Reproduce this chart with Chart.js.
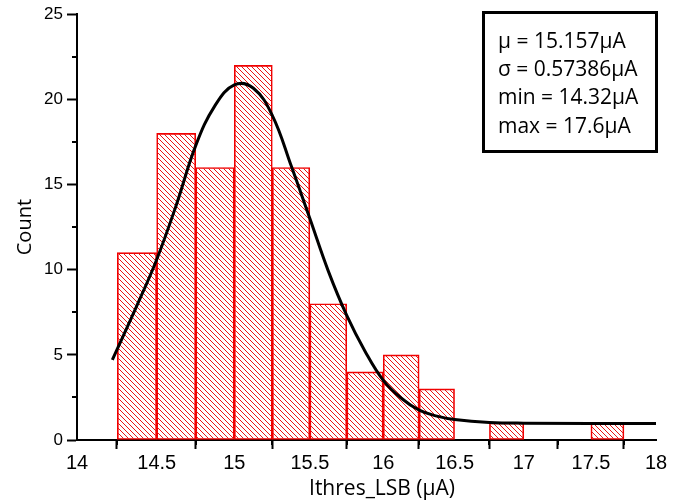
<!DOCTYPE html>
<html>
<head>
<meta charset="utf-8">
<script src="https://cdn.jsdelivr.net/npm/chart.js@4.4.1/dist/chart.umd.min.js"></script>
<style>
  html, body { margin: 0; padding: 0; background: #fff; }
  #wrap { width: 679px; height: 504px; }
</style>
</head>
<body>
<div id="wrap"><canvas id="mycanvas" width="679" height="504"></canvas></div>
<script>
// histogram bins (centre of each 0.25 uA bin) and counts
var binCenters = [14.375, 14.625, 14.875, 15.125, 15.375, 15.625, 15.875, 16.125, 16.375, 16.625, 16.875, 17.125, 17.375, 17.625];
var binCounts  = [11, 18, 16, 22, 16, 8, 4, 5, 3, 0, 1, 0, 0, 1];

// gauss fit curve
var fitX = [14.22, 14.375, 14.5, 14.625, 14.75, 14.875, 15.0, 15.125, 15.25, 15.375, 15.5, 15.625, 15.75, 15.875, 16.0, 16.125, 16.25, 16.375, 16.5, 16.75, 17.0, 18.0];
var fitY = [4.7, 7.9, 10.6, 13.8, 17.3, 19.65, 20.85, 20.65, 19.05, 16.1, 13.0, 9.9, 7.3, 5.2, 3.5, 2.45, 1.75, 1.4, 1.2, 1.03, 0.99, 0.97];

var xMin = 14, xMax = 18, xStep = 0.5, xMinor = 0.25;
var yMin = 0, yMax = 25, yStep = 5, yMinor = 2.5;

var xTitle = 'Ithres_LSB (\u03bcA)';
var yTitle = 'Count';
var statLines = ['\u03bc = 15.157\u03bcA', '\u03c3 = 0.57386\u03bcA', 'min = 14.32\u03bcA', 'max = 17.6\u03bcA'];

// the x axis of the source picture is squeezed towards the right
class WarpScale extends Chart.LinearScale {
  getPixelForDecimal(d) {
    return super.getPixelForDecimal(1.116 * d - 0.116 * d * d);
  }
}
WarpScale.id = 'warp';
WarpScale.defaults = Chart.LinearScale.defaults;
Chart.register(WarpScale);

function hatch(color) {
  var c = document.createElement('canvas');
  c.width = 5; c.height = 5;
  var g = c.getContext('2d');
  g.strokeStyle = color;
  g.lineWidth = 1;
  g.beginPath();
  g.moveTo(-1, -1); g.lineTo(6, 6);
  g.moveTo(-1, 4); g.lineTo(1, 6);
  g.moveTo(4, -1); g.lineTo(6, 1);
  g.stroke();
  return g.createPattern(c, 'repeat');
}

var minorTicks = {
  id: 'minorTicks',
  afterDraw: function(chart) {
    var ctx = chart.ctx, xs = chart.scales.x, ys = chart.scales.y;
    ctx.save();
    ctx.strokeStyle = '#000';
    ctx.lineWidth = 2;
    ctx.beginPath();
    for (var v = xMin + xMinor; v < xMax; v += 2 * xMinor) {
      var px = Math.round(xs.getPixelForValue(v));
      ctx.moveTo(px, ys.bottom); ctx.lineTo(px, ys.bottom + 5);
    }
    for (var w = yMin + yMinor; w < yMax; w += 2 * yMinor) {
      var py = Math.round(ys.getPixelForValue(w));
      ctx.moveTo(xs.left, py); ctx.lineTo(xs.left - 5, py);
    }
    ctx.stroke();
    ctx.restore();
  }
};

var extras = {
  id: 'extras',
  afterDraw: function(chart) {
    var ctx = chart.ctx;
    ctx.save();
    // stats box
    ctx.strokeStyle = '#000';
    ctx.lineWidth = 3;
    ctx.strokeRect(483.5, 12.5, 173, 139);
    ctx.fillStyle = '#000';
    ctx.font = '21px "Open Sans"';
    ctx.textBaseline = 'middle';
    ctx.textAlign = 'left';
    for (var i = 0; i < statLines.length; i++) {
      ctx.fillText(statLines[i], 498, 42 + i * 28.2);
    }
    // x axis title
    ctx.font = '21px "Open Sans"';
    ctx.textAlign = 'center';
    ctx.fillText(xTitle, 382, 489);
    ctx.restore();
  }
};

var ctx = document.getElementById('mycanvas').getContext('2d');
var chart = new Chart(ctx, {
  data: {
    datasets: [
      {
        type: 'line',
        data: fitX.map(function(x, i) { return { x: x, y: fitY[i] }; }),
        borderColor: '#000',
        borderWidth: 3,
        pointRadius: 0,
        fill: false,
        tension: 0.4
      },
      {
        type: 'bar',
        data: binCenters.map(function(x, i) { return { x: x, y: binCounts[i] }; }),
        backgroundColor: hatch('rgb(235,20,20)'),
        borderColor: 'rgb(240,0,0)',
        borderWidth: 1,
        borderSkipped: false,
        barThickness: 'flex',
        barPercentage: 1,
        categoryPercentage: 1
      }
    ]
  },
  options: {
    responsive: false,
    animation: false,
    devicePixelRatio: 1,
    events: [],
    layout: { padding: { top: 12, right: 23, left: 0, bottom: 0 } },
    plugins: { legend: { display: false }, tooltip: { enabled: false } },
    scales: {
      x: {
        type: 'warp',
        min: xMin, max: xMax,
        offset: false,
        afterFit: function(s) { s.height = 64; },
        border: { display: true, color: '#000', width: 2 },
        grid: { drawOnChartArea: false, drawTicks: true, tickLength: 9, tickWidth: 2, tickColor: '#000' },
        ticks: {
          stepSize: xStep,
          color: '#000',
          padding: 2,
          maxRotation: 0,
          callback: function(v) { return String(Math.round(v * 10) / 10); },
          font: { family: '"Liberation Sans Narrow", "Liberation Sans"', size: 20 }
        }
      },
      y: {
        min: yMin, max: yMax,
        afterFit: function(s) { s.width = 77; },
        border: { display: true, color: '#000', width: 2 },
        grid: { drawOnChartArea: false, drawTicks: true, tickLength: 10, tickWidth: 2, tickColor: '#000' },
        ticks: {
          stepSize: yStep,
          color: '#000',
          padding: 4,
          font: { family: '"Liberation Sans"', size: 17 }
        },
        title: {
          display: true,
          text: yTitle,
          color: '#000',
          padding: { top: 13, bottom: 0 },
          font: { family: '"Open Sans"', size: 20 }
        }
      }
    }
  },
  plugins: [minorTicks, extras]
});
</script>
</body>
</html>
